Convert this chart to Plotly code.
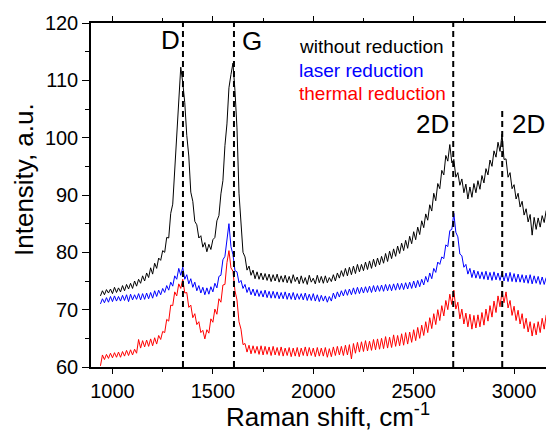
import plotly.graph_objects as go

# Raman shift grid (cm^-1), step 10
raman_shift = list(range(940, 3161, 10))

without_reduction = [
    72.4, 73.3, 72.6, 73.5, 72.9, 73.6, 72.8, 73.9, 73.0, 73.8,
    73.1, 74.2, 73.3, 74.4, 73.6, 74.6, 73.7, 75.0, 74.1, 75.3,
    74.6, 75.9, 75.0, 76.4, 75.6, 77.3, 76.2, 78.1, 77.2, 79.0,
    78.6, 80.3, 80.0, 82.6, 82.5, 86.8, 88.4, 94.6, 99.2, 106.3,
    112.3, 109.6, 106.1, 100.4, 96.8, 90.5, 88.9, 85.4, 84.8, 82.5,
    82.9, 80.9, 81.7, 80.1, 81.4, 80.5, 82.2, 82.6, 85.5, 86.4,
    90.2, 92.5, 98.6, 102.4, 108.7, 111.0, 113.0, 108.2, 101.7, 90.3,
    84.7, 80.0, 79.2, 76.9, 77.6, 76.0, 76.9, 75.4, 76.6, 75.3,
    76.4, 75.2, 76.3, 75.1, 76.2, 74.9, 76.1, 75.0, 76.2, 74.8,
    75.9, 74.8, 76.0, 74.7, 75.8, 74.6, 76.1, 74.9, 75.7, 74.5,
    75.9, 74.6, 75.6, 74.4, 76.0, 74.8, 75.5, 74.5, 76.0, 74.7,
    75.8, 74.6, 75.9, 74.7, 75.6, 74.9, 76.1, 75.0, 76.4, 75.5,
    76.8, 75.8, 77.2, 75.9, 77.4, 76.1, 77.6, 76.3, 77.9, 76.6,
    77.9, 76.8, 78.3, 77.0, 78.5, 77.2, 78.8, 77.5, 79.0, 77.8,
    79.3, 78.1, 79.8, 78.4, 80.2, 78.9, 80.6, 79.3, 81.1, 79.8,
    81.6, 80.3, 82.1, 80.7, 82.8, 81.5, 83.6, 82.2, 84.4, 83.1,
    85.5, 84.3, 86.7, 85.6, 88.3, 87.2, 90.3, 89.0, 92.0, 91.1,
    94.3, 93.5, 96.9, 95.9, 98.8, 95.6, 96.2, 93.1, 93.9, 91.7,
    92.8, 90.4, 91.9, 89.3, 91.4, 89.6, 92.0, 90.4, 92.5, 91.0,
    93.4, 92.1, 94.6, 93.5, 96.1, 95.0, 97.7, 96.6, 99.2, 97.6,
    100.6, 96.2, 96.3, 93.1, 93.9, 91.1, 91.8, 89.3, 90.3, 87.9,
    88.9, 86.5, 87.6, 85.3, 86.6, 83.0, 86.1, 84.0, 86.0, 84.4,
    86.4, 85.2, 87.3,
]

laser_reduction = [
    71.0, 71.9, 71.2, 72.1, 71.3, 72.3, 71.4, 72.4, 71.5, 72.3,
    71.5, 72.5, 71.6, 72.6, 71.4, 72.7, 71.7, 72.6, 71.8, 72.8,
    71.7, 72.8, 71.8, 72.9, 71.9, 73.0, 72.0, 73.3, 72.3, 73.4,
    72.6, 73.7, 73.0, 74.2, 73.4, 74.8, 74.1, 75.9, 75.3, 77.2,
    76.0, 77.4, 75.3, 76.1, 74.5, 75.4, 73.9, 74.8, 73.3, 74.2,
    72.9, 73.9, 72.6, 73.8, 72.7, 74.0, 73.1, 74.6, 73.8, 75.8,
    76.0, 78.7, 79.3, 82.6, 85.0, 81.0, 79.6, 76.8, 76.6, 74.7,
    75.1, 73.7, 74.4, 73.0, 73.9, 72.6, 73.6, 72.4, 73.5, 72.3,
    73.3, 72.2, 73.4, 72.1, 73.2, 72.0, 73.2, 72.0, 73.1, 71.9,
    73.0, 71.9, 73.1, 71.8, 72.9, 71.8, 73.0, 71.7, 72.8, 71.8,
    72.8, 71.7, 72.9, 71.6, 72.7, 71.6, 72.8, 71.5, 72.6, 71.4,
    72.5, 71.5, 72.4, 71.3, 72.3, 71.5, 72.9, 71.9, 73.1, 72.2,
    73.3, 72.4, 73.5, 72.5, 73.6, 72.6, 73.8, 72.7, 73.9, 72.8,
    73.9, 72.9, 74.0, 73.0, 74.1, 73.0, 74.2, 73.1, 74.2, 73.2,
    74.3, 73.2, 74.4, 73.3, 74.4, 73.3, 74.5, 73.4, 74.6, 73.5,
    74.6, 73.5, 74.7, 73.6, 74.8, 73.7, 75.0, 73.8, 75.1, 74.0,
    75.3, 74.3, 75.8, 74.8, 76.4, 75.4, 77.2, 76.5, 78.3, 77.9,
    79.2, 78.9, 81.3, 81.0, 83.8, 84.0, 86.8, 83.5, 82.7, 79.7,
    79.4, 77.4, 77.9, 76.2, 77.2, 75.6, 76.9, 75.5, 76.7, 75.4,
    76.6, 75.3, 76.7, 75.2, 76.5, 75.1, 76.6, 75.2, 76.4, 75.1,
    76.5, 75.0, 76.4, 74.9, 76.5, 74.9, 76.3, 74.8, 76.2, 74.8,
    76.1, 74.7, 76.0, 74.6, 76.1, 74.5, 75.9, 74.6, 75.8, 74.4,
    75.7, 74.4, 75.6,
]

thermal_reduction = [
    60.2, 62.1, 61.3, 62.2, 61.5, 62.4, 61.6, 62.5, 61.7, 62.6,
    61.7, 62.7, 61.9, 62.9, 62.0, 63.0, 62.1, 63.1, 62.4, 64.8,
    63.3, 64.6, 63.5, 64.7, 63.6, 64.9, 63.7, 65.1, 64.0, 65.5,
    64.8, 66.2, 66.0, 68.3, 68.0, 70.8, 70.7, 73.1, 72.4, 74.5,
    73.7, 75.3, 72.9, 73.0, 70.4, 70.8, 68.6, 69.3, 67.4, 67.9,
    66.0, 66.4, 64.9, 66.5, 65.9, 68.4, 67.8, 70.1, 69.2, 71.9,
    71.3, 74.3, 74.4, 78.2, 80.3, 77.3, 76.7, 73.3, 71.7, 67.9,
    66.6, 63.9, 64.1, 62.6, 63.8, 62.3, 63.7, 62.4, 63.6, 62.2,
    63.7, 62.1, 63.6, 62.2, 63.5, 62.0, 63.6, 62.1, 63.4, 62.0,
    63.5, 61.9, 63.3, 62.0, 63.4, 61.8, 63.3, 61.9, 63.4, 61.8,
    63.3, 62.0, 63.5, 61.9, 63.4, 62.0, 63.3, 61.8, 63.4, 61.9,
    63.3, 61.9, 63.4, 61.7, 63.2, 61.8, 63.5, 62.0, 63.6, 62.1,
    63.6, 62.0, 63.8, 62.1, 63.9, 61.4, 64.1, 62.4, 64.3, 62.6,
    64.4, 62.7, 64.6, 62.8, 64.5, 62.9, 64.8, 63.0, 64.9, 63.1,
    65.0, 63.2, 65.3, 63.3, 65.2, 63.4, 65.6, 63.6, 65.5, 63.7,
    65.8, 63.8, 66.0, 64.0, 66.1, 64.3, 66.5, 64.6, 66.9, 65.0,
    67.3, 65.5, 67.9, 66.0, 68.6, 66.7, 69.3, 67.4, 70.0, 68.1,
    70.7, 68.9, 71.6, 70.0, 72.7, 70.9, 73.4, 70.1, 71.3, 68.4,
    70.1, 67.5, 69.4, 67.0, 69.2, 66.6, 69.0, 66.8, 69.1, 67.0,
    69.5, 67.3, 70.1, 68.0, 70.7, 68.7, 71.5, 69.5, 72.4, 70.5,
    73.2, 71.2, 73.1, 70.3, 71.6, 69.0, 70.6, 68.1, 69.9, 67.5,
    69.3, 66.7, 68.5, 66.1, 67.9, 65.4, 67.6, 65.6, 67.9, 66.0,
    68.5, 66.6, 69.1,
]

series_names = ["without reduction", "laser reduction", "thermal reduction"]
series_colors = ["#000000", "#0000ff", "#ff0000"]

peak_labels = ["D", "G", "2D", "2D'"]
peak_positions = [1351, 1605, 2697, 2941]

FONT = "Liberation Sans, Arial, sans-serif"

fig = go.Figure()
for name, color, ys in zip(series_names, series_colors,
                           [without_reduction, laser_reduction, thermal_reduction]):
    fig.add_trace(go.Scatter(x=raman_shift, y=ys, mode="lines", name=name,
                             line=dict(color=color, width=1), showlegend=False))

# dashed reference lines at peak positions
line_tops = [1.0, 1.0, 1.0, (104.8 - 60) / 60]
for xp, top in zip(peak_positions, line_tops):
    fig.add_shape(type="line", xref="x", yref="paper", x0=xp, x1=xp, y0=0, y1=top,
                  line=dict(color="black", width=2, dash="6px,4px"), layer="above")

# peak labels
label_pos = [
    (1290, 117.1, "center"),
    (1697, 116.9, "center"),
    (2596, 102.4, "center"),
    (2980, 102.4, "left"),
]
for txt, (xp, yp, anc) in zip(peak_labels, label_pos):
    fig.add_annotation(x=xp, y=yp, xref="x", yref="y", text=txt, showarrow=False,
                       xanchor=anc, yanchor="middle",
                       font=dict(family=FONT, size=26, color="black"))

# legend as coloured text
legend_y = [115.9, 111.7, 107.7]
for name, color, yp in zip(series_names, series_colors, legend_y):
    fig.add_annotation(x=1917, y=yp, xref="x", yref="y", text=name, showarrow=False,
                       xanchor="left", yanchor="middle",
                       font=dict(family=FONT, size=19, color=color))

# axis titles
fig.add_annotation(x=-0.147, y=0.544, xref="paper", yref="paper",
                   text="Intensity, a.u.", textangle=-90, showarrow=False,
                   xanchor="center", yanchor="middle",
                   font=dict(family=FONT, size=26, color="black"))
fig.add_annotation(x=0.521, y=-0.14, xref="paper", yref="paper",
                   text="Raman shift, cm<sup>-1</sup>", showarrow=False,
                   xanchor="center", yanchor="middle",
                   font=dict(family=FONT, size=26, color="black"))

fig.update_layout(
    width=546, height=431,
    margin=dict(l=91, r=0, t=23, b=64),
    paper_bgcolor="white", plot_bgcolor="white",
    font=dict(family=FONT, size=20, color="black"),
    xaxis=dict(range=[893, 3159], showgrid=False, zeroline=False,
               showline=True, linecolor="black", linewidth=1.5, mirror="ticks",
               ticks="outside", ticklen=5, tickwidth=1.2, tickcolor="black",
               tickvals=[1000, 1500, 2000, 2500, 3000],
               minor=dict(tickvals=[1250, 1750, 2250, 2750], ticks="outside",
                          ticklen=3, tickwidth=1.2, tickcolor="black", showgrid=False),
               tickfont=dict(family=FONT, size=20, color="black")),
    yaxis=dict(range=[60, 120], showgrid=False, zeroline=False,
               showline=True, linecolor="black", linewidth=1.5,
               ticks="outside", ticklen=7, tickwidth=1.2, tickcolor="black",
               tickvals=[60, 70, 80, 90, 100, 110, 120],
               minor=dict(tickvals=[65, 75, 85, 95, 105, 115], ticks="outside",
                          ticklen=4, tickwidth=1.2, tickcolor="black", showgrid=False),
               tickfont=dict(family=FONT, size=20, color="black")),
)

fig.write_html("out.html", config={"displayModeBar": False},
               post_script="document.body.style.margin='0px';document.body.style.overflow='hidden';")
